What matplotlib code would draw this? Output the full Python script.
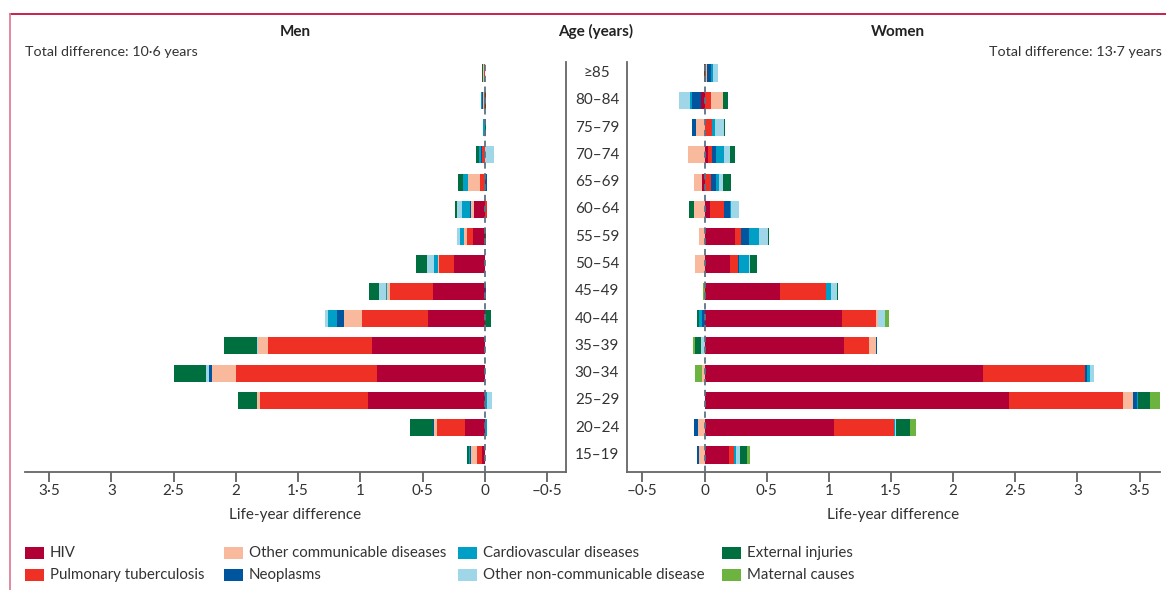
import matplotlib
matplotlib.use("Agg")
import matplotlib.pyplot as plt
import matplotlib.transforms as mtransforms
from matplotlib.lines import Line2D
from matplotlib.patches import Rectangle
import numpy as np

plt.rcParams['font.family'] = ['Lato', 'DejaVu Sans']
plt.rcParams['font.size'] = 11

# age groups, youngest first (bottom of the chart)
ages = ['15–19', '20–24', '25–29', '30–34', '35–39', '40–44', '45–49', '50–54',
        '55–59', '60–64', '65–69', '70–74', '75–79', '80–84', '≥85']

causes = ['HIV', 'Pulmonary tuberculosis', 'Other communicable diseases', 'Neoplasms',
          'Cardiovascular diseases', 'Other non-communicable disease',
          'External injuries', 'Maternal causes']
colours = ['#b00035', '#ee3124', '#f9b99d', '#00559f',
           '#00a0c6', '#9fd6e8', '#006f3f', '#6db33f']

# life-year difference contributed by each cause, per age group
men_hiv = [0.019, 0.162, 0.937, 0.865, 0.905, 0.46, 0.415, 0.245, 0.096, 0.083, 0, 0, 0, 0, 0]
men_tb = [0.04, 0.226, 0.865, 1.13, 0.84, 0.525, 0.347, 0.124, 0.048, -0.021, 0.035, 0.02, 0, 0.008, 0.003]
men_othcomm = [0.048, 0.024, 0.024, 0.194, 0.073, 0.145, 0.027, 0.005, 0.024, 0.024, 0.104, 0, 0, 0.003, 0.008]
men_neo = [0.008, 0.008, 0, 0.024, 0, 0.057, -0.013, -0.005, 0, 0.008, -0.021, 0.013, 0, 0.008, 0]
men_cvd = [0.008, -0.016, -0.016, 0, -0.005, 0.073, 0.005, 0.032, 0.032, 0.072, 0.035, 0.016, 0.013, 0.011, 0.003]
men_ncd = [0, 0, -0.04, 0.024, 0.008, 0.024, 0.057, 0.057, 0.024, 0.04, 0.005, -0.07, -0.003, 0, 0]
men_inj = [0.024, 0.178, 0.154, 0.259, 0.267, -0.048, 0.081, 0.089, -0.013, 0.016, 0.04, 0.019, -0.008, -0.01, 0.008]
men_mat = [0] * 15

women_hiv = [0.198, 1.041, 2.45, 2.24, 1.12, 1.106, 0.609, 0.204, 0.244, 0.043, -0.021, 0.027, 0, -0.027, 0.005]
women_tb = [0.04, 0.48, 0.914, 0.818, 0.203, 0.274, 0.37, 0.064, 0.048, 0.113, 0.051, 0.032, 0.059, 0.051, 0.008]
women_othcomm = [-0.045, -0.054, 0.082, -0.017, 0.056, 0.014, 0, -0.078, -0.046, -0.086, -0.064, -0.134, -0.07, 0.097, 0.01]
women_neo = [-0.017, -0.031, 0.034, 0.023, 0.008, -0.02, 0, 0.008, 0.064, 0.048, 0.04, 0.032, -0.032, -0.075, 0.027]
women_cvd = [0.017, 0.011, 0.006, 0.017, 0, -0.023, 0.037, 0.08, 0.08, 0.008, 0.024, 0.064, 0.024, -0.016, 0.016]
women_ncd = [0.034, 0.011, 0, 0.034, -0.028, 0.059, 0.048, 0.008, 0.072, 0.064, 0.032, 0.048, 0.072, -0.088, 0.04]
women_inj = [0.056, 0.113, 0.099, -0.006, -0.051, -0.02, 0.008, 0.056, 0.008, -0.04, 0.064, 0.04, 0.008, 0.04, -0.005]
women_mat = [0.023, 0.048, 0.087, -0.054, -0.014, 0.034, -0.01, 0, 0, 0, 0, 0, 0, 0, 0]

men = [men_hiv, men_tb, men_othcomm, men_neo, men_cvd, men_ncd, men_inj, men_mat]
women = [women_hiv, women_tb, women_othcomm, women_neo, women_cvd, women_ncd, women_inj, women_mat]

men_ticks = [3.5, 3, 2.5, 2, 1.5, 1, 0.5, 0, -0.5]
women_ticks = [-0.5, 0, 0.5, 1, 1.5, 2, 2.5, 3, 3.5]

TXT = '#333333'


def fmt(v):
    # middle dot for decimals, en dash for minus
    s = ('%g' % abs(v)).replace('.', '·')
    return ('–' + s) if v < 0 else s


def stacked(ax, series):
    y = np.arange(len(ages))
    pos = np.zeros(len(ages))
    neg = np.zeros(len(ages))
    for vals, c in zip(series, colours):
        vals = np.array(vals, dtype=float)
        left = np.where(vals >= 0, pos, neg)
        ax.barh(y, vals, left=left, height=0.63, color=c, linewidth=0, zorder=2)
        pos = pos + np.clip(vals, 0, None)
        neg = neg + np.clip(vals, None, 0)
    ax.axvline(0, color='#5f7384', lw=1.3, ls=(0, (3.5, 2.5)), zorder=3)
    ax.set_ylim(-0.62, 14.4)
    ax.set_yticks([])
    ax.tick_params(axis='x', direction='out', length=7, width=1.2, color='#555555',
                   labelsize=11, labelcolor=TXT, pad=1.5)
    for s in ax.spines.values():
        s.set_color('#666666')
        s.set_linewidth(1.3)
    ax.spines['top'].set_visible(False)


fig = plt.figure(figsize=(11.66, 5.90), dpi=100)

ax_m = fig.add_axes([0.0214, 0.2, 0.4640, 0.6949])
ax_w = fig.add_axes([0.5377, 0.2, 0.4572, 0.6949])

stacked(ax_m, men)
ax_m.set_xlim(3.694, -0.652)
ax_m.spines['left'].set_visible(False)
ax_m.set_xticks(men_ticks)
ax_m.set_xticklabels([fmt(v) for v in men_ticks])
ax_m.set_xlabel('Life-year difference', fontsize=11, color=TXT, labelpad=7)

stacked(ax_w, women)
ax_w.set_xlim(-0.624, 3.665)
ax_w.spines['right'].set_visible(False)
ax_w.set_xticks(women_ticks)
ax_w.set_xticklabels([fmt(v) for v in women_ticks])
ax_w.set_xlabel('Life-year difference', fontsize=11, color=TXT, labelpad=7)

# age labels between the two panels
tr = mtransforms.blended_transform_factory(fig.transFigure, ax_w.transData)
for i, a in enumerate(ages):
    ax_w.text(0.512, i, a, transform=tr, ha='center', va='center',
              fontsize=11, color=TXT)

fig.text(0.253, 0.946, 'Men', ha='center', va='center', fontsize=11, weight='bold', color='#222222')
fig.text(0.511, 0.946, 'Age (years)', ha='center', va='center', fontsize=11, weight='bold', color='#222222')
fig.text(0.770, 0.946, 'Women', ha='center', va='center', fontsize=11, weight='bold', color='#222222')
fig.text(0.0214, 0.912, 'Total difference: 10·6 years', ha='left', va='center', fontsize=10.3, color=TXT)
fig.text(0.9965, 0.912, 'Total difference: 13·7 years', ha='right', va='center', fontsize=10.3, color=TXT)

# legend: four columns of two entries each
col_x = [25, 224, 458, 722]
row_y = [553, 575]
W, H = 1166.0, 590.0
for k, (c, lab) in enumerate(zip(colours, causes)):
    x0 = col_x[k // 2]
    y0 = row_y[k % 2]
    fig.add_artist(Rectangle((x0 / W, 1 - (y0 + 6) / H), 19 / W, 12 / H,
                             transform=fig.transFigure, facecolor=c, edgecolor='none'))
    fig.text((x0 + 25) / W, 1 - y0 / H, lab, ha='left', va='center',
             fontsize=10.8, color=TXT)

# frame lines
fig.add_artist(Line2D([0.0086, 1.0], [0.977, 0.977], transform=fig.transFigure,
                      color='#c4103f', lw=1.3))
fig.add_artist(Line2D([0.0086, 0.0086], [0.0, 0.977], transform=fig.transFigure,
                      color='#df7f98', lw=1.3))

fig.savefig('out.png', dpi=100)
